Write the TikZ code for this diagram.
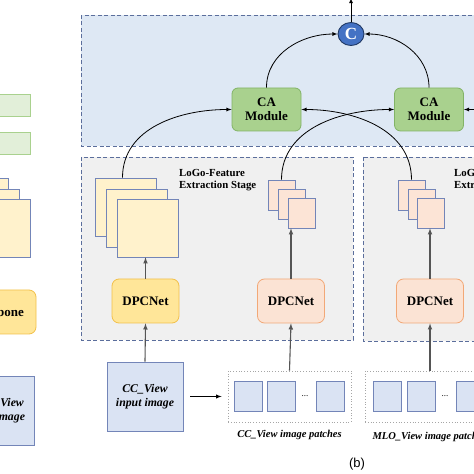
\documentclass[tikz,border=0pt]{standalone}
\usepackage{fontspec}
\setmainfont{Liberation Serif}
\newfontfamily\capsans{Liberation Sans}
\usetikzlibrary{shapes.geometric}

\definecolor{dashblue}{HTML}{5B6E9C}
\definecolor{topfill}{HTML}{DEE8F4}
\definecolor{stagefill}{HTML}{F0F0F0}
\definecolor{cafill}{HTML}{A9D18E}
\definecolor{cadraw}{HTML}{82B366}
\definecolor{catfill}{HTML}{4472C4}
\definecolor{catdraw}{HTML}{1F3864}
\definecolor{dpcyfill}{HTML}{FFE699}
\definecolor{dpcydraw}{HTML}{F2C04A}
\definecolor{dpcofill}{HTML}{FBE3D4}
\definecolor{dpcodraw}{HTML}{F2A877}
\definecolor{paperfill}{HTML}{FFF2CC}
\definecolor{patchfill}{HTML}{FCE4D6}
\definecolor{imgfill}{HTML}{DAE3F3}
\definecolor{imgdraw}{HTML}{7385B8}
\definecolor{greenfill}{HTML}{E2EFD9}
\definecolor{arrowgray}{HTML}{555555}

\begin{document}
\begin{tikzpicture}[x=1pt,y=1pt,>=latex]
\tikzstyle{region}=[draw=dashblue,dash pattern=on 4pt off 2.5pt,line width=0.9pt]
\tikzstyle{camodule}=[draw=cadraw,fill=cafill,rounded corners=6pt,line width=0.8pt,
  minimum width=69pt,minimum height=43pt,align=center,inner sep=0pt,
  font=\fontsize{13}{14.5}\selectfont\bfseries]
\tikzstyle{dpcnet}=[rounded corners=7pt,line width=0.8pt,minimum width=67pt,
  minimum height=44pt,inner sep=0pt,font=\fontsize{13}{14}\selectfont\bfseries]
\tikzstyle{paper}=[draw=imgdraw,fill=paperfill,line width=0.7pt,minimum width=61pt,
  minimum height=58pt,inner sep=0pt]
\tikzstyle{patch}=[draw=imgdraw,fill=patchfill,line width=0.7pt,minimum width=27pt,
  minimum height=30pt,inner sep=0pt]
\tikzstyle{imgpatch}=[draw=imgdraw,fill=imgfill,line width=0.8pt,minimum width=28pt,
  minimum height=30pt,inner sep=0pt]
\tikzstyle{patchbox}=[draw=gray!70,dotted,line width=0.8pt,minimum width=123pt,
  minimum height=51pt,inner sep=0pt]
\tikzstyle{inputimg}=[draw=imgdraw,fill=imgfill,line width=0.8pt,minimum width=76pt,
  minimum height=69pt,align=center,inner sep=0pt,
  font=\fontsize{11.8}{14}\selectfont\bfseries\itshape]
\tikzstyle{stagetext}=[anchor=north west,align=left,inner sep=0pt,
  font=\fontsize{10.8}{12}\selectfont\bfseries]
\tikzstyle{caption}=[inner sep=0pt,font=\fontsize{10.5}{12}\selectfont\bfseries\itshape]
\tikzstyle{flow}=[->,line width=0.8pt]
\tikzstyle{feed}=[->,draw=arrowgray,line width=1.1pt]

\useasboundingbox (0,0) rectangle (474,474);
\clip (0,0) rectangle (474,474);

% panel (a), cut at the left edge
\node (greenA) at (-5,369) [draw=cafill,fill=greenfill,line width=0.8pt,
  minimum width=70pt,minimum height=22pt] {};
\node (greenB) at (-5,330.5) [draw=cafill,fill=greenfill,line width=0.8pt,
  minimum width=70pt,minimum height=22pt] {};
\node[paper] (leftP1) at (-22.5,267) {};
\node[paper] (leftP2) at (-11.5,256) {};
\node[paper] (leftP3) at (-0.5,246) {};
\node[dpcnet,draw=dpcydraw,fill=dpcyfill,minimum width=79pt] (backbone) at (-3.5,162) {Backbone};
\node[inputimg] (imgMLOa) at (-4,63) {MLO\_View\\input image};

% dashed regions
\draw[region,fill=topfill] (81,459) rectangle (490,328);
\draw[region,fill=stagefill] (81,317) rectangle (353,134);
\draw[region,fill=stagefill] (363,317) rectangle (490,133);

% fusion part
\node (cat) at (351,440) [draw=catdraw,fill=catfill,ellipse,line width=0.9pt,
  minimum width=26pt,minimum height=23pt,inner sep=0pt,text=white,
  font=\fontsize{17}{18}\selectfont\bfseries] {C};
\coordinate (outTop) at (351,476);
\node[camodule] (caL) at (266.5,364.5) {CA\\Module};
\node[camodule] (caR) at (429,364.5) {CA\\Module};
\coordinate (rightIn) at (478,364.5);

% LoGo-feature extraction stages
\node[stagetext] (stageCC) at (179,305) {LoGo-Feature\\Extraction Stage};
\node[stagetext] (stageMLO) at (454,305) {LoGo-Feature\\Extraction Stage};
\node[paper] (featA1) at (125.5,267) {};
\node[paper] (featA2) at (136.5,256) {};
\node[paper] (featA3) at (147.5,246) {};
\node[patch] (featB1) at (281.5,279) {};
\node[patch] (featB2) at (291.5,270) {};
\node[patch] (featB3) at (301.5,261) {};
\node[patch] (featC1) at (411.5,279) {};
\node[patch] (featC2) at (421.5,270) {};
\node[patch] (featC3) at (431,261) {};
\node[dpcnet,draw=dpcydraw,fill=dpcyfill] (dpcA) at (145.5,173) {DPCNet};
\node[dpcnet,draw=dpcodraw,fill=dpcofill] (dpcB) at (291,173) {DPCNet};
\node[dpcnet,draw=dpcodraw,fill=dpcofill] (dpcC) at (430,173) {DPCNet};

% inputs
\node[inputimg] (imgCC) at (145,77.5) {CC\_View\\input image};
\node[patchbox] (patchCC) at (289.5,77.5) {};
\node[imgpatch] (pcc1) at (248.5,78) {};
\node[imgpatch] (pcc2) at (281,78) {};
\node (pccdots) at (305,78) [inner sep=0pt,font=\small] {...};
\node[imgpatch] (pcc3) at (330.5,78) {};
\node[patchbox] (patchMLO) at (426.5,77.5) {};
\node[imgpatch] (pmlo1) at (387.5,78) {};
\node[imgpatch] (pmlo2) at (421,78) {};
\node (pmlodots) at (445,78) [inner sep=0pt,font=\small] {...};
\node[imgpatch] (pmlo3) at (470,78) {};
\node[caption] (capCC) at (289.5,39) {CC\_View image patches};
\node[caption] (capMLO) at (429.5,37) {MLO\_View image patches};
\node (sub) at (357,10) [inner sep=0pt,font=\capsans\fontsize{13}{14}\selectfont] {(b)};

% connectors
\draw[flow] (cat.north) -- (outTop);
\draw[flow] (caL.north) to[out=90,in=180] (cat.west);
\draw[flow] (caR.north) to[out=90,in=0] (cat.east);
\draw[flow] ([xshift=-3pt]featA1.north) to[out=90,in=180] (caL.west);
\draw[flow] (featB1.north) to[out=90,in=180] (caR.west);
\draw[flow] (featC1.north) to[out=90,in=0] (caL.east);
\draw[flow] (rightIn) -- (caR.east);
\draw[feed] (dpcA.north) -- (dpcA.north |- featA3.south);
\draw[feed] (dpcB.north) -- (dpcB.north |- featB3.south);
\draw[feed] (dpcC.north) -- (dpcC.north |- featC3.south);
\draw[feed] (imgCC.north) -- (dpcA.south);
\draw[feed] (patchCC.north) -- (dpcB.south);
\draw[feed] (patchMLO.north -| dpcC.south) -- (dpcC.south);
\draw[feed,draw=black,line width=0.9pt] ([xshift=7pt]imgCC.east) -- ([xshift=-6pt]patchCC.west);
\end{tikzpicture}
\end{document}
